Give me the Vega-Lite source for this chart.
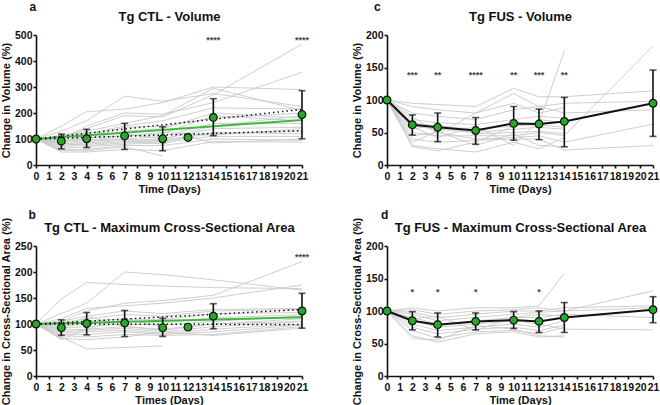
{
"$schema":"https://vega.github.io/schema/vega-lite/v6.json",
"padding":{"left":0,"top":0,"right":2,"bottom":0},
"background":"white",
"config":{
 "view":{"stroke":null},
 "font":"Liberation Sans",
 "axis":{"domainColor":"#111","domainWidth":1.6,"tickColor":"#111","tickWidth":1.6,"tickSize":3,"labelFont":"Liberation Sans","labelFontWeight":"bold","labelFontSize":10.5,"labelColor":"#111","titleFont":"Liberation Sans","titleFontWeight":"bold","titleFontSize":11,"titleColor":"#111","grid":false},
 "axisX":{"labelPadding":3,"titlePadding":2},
 "axisY":{"labelPadding":1,"titlePadding":3},
 "title":{"font":"Liberation Sans","fontWeight":"bold","fontSize":12,"anchor":"start","frame":"group","color":"#111"},
 "line":{"clip":false}
},
"datasets":{
 "a_ind":[
 {"s":1,"d":0,"v":100},{"s":1,"d":2,"v":150},{"s":1,"d":4,"v":205},{"s":1,"d":7,"v":215},{"s":1,"d":10,"v":240},{"s":1,"d":14,"v":300},{"s":1,"d":21,"v":290},
 {"s":2,"d":0,"v":100},{"s":2,"d":2,"v":130},{"s":2,"d":4,"v":170},{"s":2,"d":7,"v":265},{"s":2,"d":10,"v":245},{"s":2,"d":14,"v":275},{"s":2,"d":21,"v":225},
 {"s":3,"d":0,"v":100},{"s":3,"d":2,"v":110},{"s":3,"d":4,"v":140},{"s":3,"d":7,"v":190},{"s":3,"d":10,"v":185},{"s":3,"d":14,"v":270},{"s":3,"d":21,"v":465},
 {"s":4,"d":0,"v":100},{"s":4,"d":2,"v":95},{"s":4,"d":4,"v":150},{"s":4,"d":7,"v":200},{"s":4,"d":10,"v":195},{"s":4,"d":14,"v":240},{"s":4,"d":21,"v":357},
 {"s":5,"d":0,"v":100},{"s":5,"d":2,"v":115},{"s":5,"d":4,"v":130},{"s":5,"d":7,"v":160},{"s":5,"d":10,"v":190},{"s":5,"d":14,"v":295},{"s":5,"d":21,"v":210},
 {"s":6,"d":0,"v":100},{"s":6,"d":2,"v":105},{"s":6,"d":4,"v":120},{"s":6,"d":7,"v":150},{"s":6,"d":10,"v":170},{"s":6,"d":14,"v":220},{"s":6,"d":21,"v":215},
 {"s":7,"d":0,"v":100},{"s":7,"d":2,"v":90},{"s":7,"d":4,"v":100},{"s":7,"d":7,"v":130},{"s":7,"d":10,"v":140},{"s":7,"d":14,"v":200},{"s":7,"d":21,"v":180},
 {"s":8,"d":0,"v":100},{"s":8,"d":2,"v":85},{"s":8,"d":4,"v":95},{"s":8,"d":7,"v":110},{"s":8,"d":10,"v":120},{"s":8,"d":14,"v":190},{"s":8,"d":21,"v":170},
 {"s":9,"d":0,"v":100},{"s":9,"d":2,"v":80},{"s":9,"d":4,"v":90},{"s":9,"d":7,"v":100},{"s":9,"d":10,"v":110},{"s":9,"d":14,"v":160},{"s":9,"d":21,"v":160},
 {"s":10,"d":0,"v":100},{"s":10,"d":2,"v":75},{"s":10,"d":4,"v":85},{"s":10,"d":7,"v":95},{"s":10,"d":10,"v":100},{"s":10,"d":14,"v":140},{"s":10,"d":21,"v":145},
 {"s":11,"d":0,"v":100},{"s":11,"d":2,"v":70},{"s":11,"d":4,"v":80},{"s":11,"d":7,"v":90},{"s":11,"d":10,"v":95},{"s":11,"d":14,"v":125},{"s":11,"d":21,"v":120},
 {"s":12,"d":0,"v":100},{"s":12,"d":2,"v":65},{"s":12,"d":4,"v":70},{"s":12,"d":7,"v":80},{"s":12,"d":10,"v":85},{"s":12,"d":12,"v":100},{"s":12,"d":14,"v":110},{"s":12,"d":21,"v":110},
 {"s":13,"d":0,"v":100},{"s":13,"d":2,"v":60},{"s":13,"d":4,"v":60},{"s":13,"d":7,"v":75},{"s":13,"d":10,"v":75},{"s":13,"d":14,"v":100},{"s":13,"d":21,"v":95},
 {"s":14,"d":0,"v":100},{"s":14,"d":2,"v":55},{"s":14,"d":4,"v":55},{"s":14,"d":7,"v":70},{"s":14,"d":10,"v":35},
 {"s":15,"d":0,"v":100},{"s":15,"d":2,"v":50},{"s":15,"d":4,"v":50},{"s":15,"d":7,"v":60},{"s":15,"d":10,"v":55},{"s":15,"d":14,"v":90},{"s":15,"d":21,"v":88},
 {"s":16,"d":0,"v":100},{"s":16,"d":2,"v":95},{"s":16,"d":4,"v":110},{"s":16,"d":7,"v":145},{"s":16,"d":10,"v":150},{"s":16,"d":14,"v":180},{"s":16,"d":21,"v":200},
 {"s":17,"d":0,"v":100},{"s":17,"d":2,"v":110},{"s":17,"d":4,"v":125},{"s":17,"d":7,"v":120},{"s":17,"d":10,"v":100},{"s":17,"d":14,"v":150},{"s":17,"d":21,"v":190},
 {"s":18,"d":0,"v":100},{"s":18,"d":2,"v":85},{"s":18,"d":4,"v":75},{"s":18,"d":7,"v":85},{"s":18,"d":10,"v":90},{"s":18,"d":12,"v":110},{"s":18,"d":14,"v":85},{"s":18,"d":21,"v":100},
 {"s":19,"d":0,"v":100},{"s":19,"d":2,"v":100},{"s":19,"d":4,"v":95},{"s":19,"d":7,"v":100},{"s":19,"d":10,"v":80},{"s":19,"d":12,"v":108},{"s":19,"d":14,"v":120},{"s":19,"d":21,"v":130},
 {"s":20,"d":0,"v":100},{"s":20,"d":2,"v":92},{"s":20,"d":4,"v":105},{"s":20,"d":7,"v":112},{"s":20,"d":10,"v":125},{"s":20,"d":14,"v":115},{"s":20,"d":21,"v":140}
 ],
 "a_mean":[
 {"d":0,"m":100,"lo":100,"hi":100},{"d":2,"m":92,"lo":62,"hi":119},{"d":4,"m":101,"lo":67,"hi":137},{"d":7,"m":112,"lo":60,"hi":160},{"d":10,"m":101,"lo":55,"hi":147},{"d":12,"m":106,"lo":98,"hi":113},{"d":14,"m":183,"lo":113,"hi":255},{"d":21,"m":194,"lo":101,"hi":286}
 ],
 "a_fit":[
 {"k":"fit","d":0,"v":100},{"k":"fit","d":21,"v":173},
 {"k":"upper","d":0,"v":100},{"k":"upper","d":21,"v":214},
 {"k":"lower","d":0,"v":100},{"k":"lower","d":21,"v":132}
 ],
 "a_star":[{"d":14,"y":482,"t":"****"},{"d":21,"y":482,"t":"****"}],
 "b_ind":[
 {"s":1,"d":0,"v":100},{"s":1,"d":2,"v":148},{"s":1,"d":4,"v":180},{"s":1,"d":7,"v":176},{"s":1,"d":10,"v":173},{"s":1,"d":14,"v":170},{"s":1,"d":21,"v":168},
 {"s":2,"d":0,"v":100},{"s":2,"d":2,"v":120},{"s":2,"d":4,"v":140},{"s":2,"d":7,"v":200},{"s":2,"d":10,"v":195},{"s":2,"d":14,"v":185},{"s":2,"d":21,"v":165},
 {"s":3,"d":0,"v":100},{"s":3,"d":2,"v":105},{"s":3,"d":4,"v":125},{"s":3,"d":7,"v":140},{"s":3,"d":10,"v":145},{"s":3,"d":14,"v":155},{"s":3,"d":21,"v":220},
 {"s":4,"d":0,"v":100},{"s":4,"d":2,"v":110},{"s":4,"d":4,"v":130},{"s":4,"d":7,"v":135},{"s":4,"d":10,"v":140},{"s":4,"d":14,"v":150},{"s":4,"d":21,"v":175},
 {"s":5,"d":0,"v":100},{"s":5,"d":2,"v":105},{"s":5,"d":4,"v":115},{"s":5,"d":7,"v":125},{"s":5,"d":10,"v":120},{"s":5,"d":14,"v":128},{"s":5,"d":21,"v":130},
 {"s":6,"d":0,"v":100},{"s":6,"d":2,"v":102},{"s":6,"d":4,"v":110},{"s":6,"d":7,"v":118},{"s":6,"d":10,"v":115},{"s":6,"d":14,"v":125},{"s":6,"d":21,"v":128},
 {"s":7,"d":0,"v":100},{"s":7,"d":2,"v":98},{"s":7,"d":4,"v":105},{"s":7,"d":7,"v":110},{"s":7,"d":10,"v":108},{"s":7,"d":14,"v":120},{"s":7,"d":21,"v":122},
 {"s":8,"d":0,"v":100},{"s":8,"d":2,"v":95},{"s":8,"d":4,"v":100},{"s":8,"d":7,"v":105},{"s":8,"d":10,"v":102},{"s":8,"d":14,"v":112},{"s":8,"d":21,"v":118},
 {"s":9,"d":0,"v":100},{"s":9,"d":2,"v":92},{"s":9,"d":4,"v":95},{"s":9,"d":7,"v":100},{"s":9,"d":10,"v":98},{"s":9,"d":14,"v":105},{"s":9,"d":21,"v":115},
 {"s":10,"d":0,"v":100},{"s":10,"d":2,"v":88},{"s":10,"d":4,"v":90},{"s":10,"d":7,"v":95},{"s":10,"d":10,"v":90},{"s":10,"d":14,"v":100},{"s":10,"d":21,"v":110},
 {"s":11,"d":0,"v":100},{"s":11,"d":2,"v":85},{"s":11,"d":4,"v":88},{"s":11,"d":7,"v":92},{"s":11,"d":10,"v":85},{"s":11,"d":14,"v":95},{"s":11,"d":21,"v":105},
 {"s":12,"d":0,"v":100},{"s":12,"d":2,"v":82},{"s":12,"d":4,"v":85},{"s":12,"d":7,"v":88},{"s":12,"d":10,"v":82},{"s":12,"d":14,"v":90},{"s":12,"d":21,"v":100},
 {"s":13,"d":0,"v":100},{"s":13,"d":2,"v":80},{"s":13,"d":4,"v":80},{"s":13,"d":7,"v":85},{"s":13,"d":10,"v":80},{"s":13,"d":14,"v":85},{"s":13,"d":21,"v":98},
 {"s":14,"d":0,"v":100},{"s":14,"d":2,"v":78},{"s":14,"d":4,"v":75},{"s":14,"d":7,"v":80},{"s":14,"d":10,"v":78},{"s":14,"d":14,"v":80},{"s":14,"d":21,"v":95},
 {"s":15,"d":0,"v":100},{"s":15,"d":2,"v":75},{"s":15,"d":4,"v":52},{"s":15,"d":7,"v":55},{"s":15,"d":10,"v":58},
 {"s":16,"d":0,"v":100},{"s":16,"d":2,"v":72},{"s":16,"d":4,"v":70},{"s":16,"d":7,"v":75},{"s":16,"d":10,"v":85},{"s":16,"d":14,"v":78},{"s":16,"d":21,"v":92},
 {"s":17,"d":0,"v":100},{"s":17,"d":2,"v":70},{"s":17,"d":4,"v":90},{"s":17,"d":7,"v":110},{"s":17,"d":10,"v":95},
 {"s":18,"d":0,"v":100},{"s":18,"d":2,"v":90},{"s":18,"d":4,"v":115},{"s":18,"d":7,"v":95},{"s":18,"d":10,"v":88},{"s":18,"d":14,"v":100},{"s":18,"d":21,"v":105}
 ],
 "b_mean":[
 {"d":0,"m":100,"lo":100,"hi":100},{"d":2,"m":93,"lo":78,"hi":108},{"d":4,"m":101,"lo":79,"hi":122},{"d":7,"m":102,"lo":76,"hi":126},{"d":10,"m":93,"lo":76,"hi":111},{"d":12,"m":94,"lo":90,"hi":98},{"d":14,"m":115,"lo":91,"hi":139},{"d":21,"m":125,"lo":92,"hi":159}
 ],
 "b_fit":[
 {"k":"fit","d":0,"v":100},{"k":"fit","d":21,"v":113},
 {"k":"upper","d":0,"v":100},{"k":"upper","d":21,"v":128},
 {"k":"lower","d":0,"v":100},{"k":"lower","d":21,"v":99}
 ],
 "b_star":[{"d":21,"y":228,"t":"****"}],
 "c_ind":[
 {"s":1,"d":0,"v":100},{"s":1,"d":2,"v":95},{"s":1,"d":4,"v":93},{"s":1,"d":7,"v":90},{"s":1,"d":10,"v":118},{"s":1,"d":12,"v":105},{"s":1,"d":14,"v":105},{"s":1,"d":21,"v":114},
 {"s":2,"d":0,"v":100},{"s":2,"d":2,"v":90},{"s":2,"d":4,"v":85},{"s":2,"d":7,"v":80},{"s":2,"d":10,"v":110},{"s":2,"d":12,"v":90},{"s":2,"d":14,"v":95},{"s":2,"d":21,"v":98},
 {"s":3,"d":0,"v":100},{"s":3,"d":2,"v":80},{"s":3,"d":4,"v":75},{"s":3,"d":7,"v":70},{"s":3,"d":10,"v":85},{"s":3,"d":12,"v":90},{"s":3,"d":14,"v":80},{"s":3,"d":21,"v":85},
 {"s":4,"d":0,"v":100},{"s":4,"d":2,"v":70},{"s":4,"d":4,"v":65},{"s":4,"d":7,"v":62},{"s":4,"d":10,"v":70},{"s":4,"d":12,"v":75},{"s":4,"d":14,"v":72},
 {"s":5,"d":0,"v":100},{"s":5,"d":2,"v":65},{"s":5,"d":4,"v":60},{"s":5,"d":7,"v":55},{"s":5,"d":10,"v":60},{"s":5,"d":12,"v":62},{"s":5,"d":14,"v":58},
 {"s":6,"d":0,"v":100},{"s":6,"d":2,"v":60},{"s":6,"d":4,"v":55},{"s":6,"d":7,"v":50},{"s":6,"d":10,"v":55},{"s":6,"d":12,"v":58},{"s":6,"d":14,"v":55},
 {"s":7,"d":0,"v":100},{"s":7,"d":2,"v":55},{"s":7,"d":4,"v":62},{"s":7,"d":7,"v":48},{"s":7,"d":10,"v":50},{"s":7,"d":12,"v":52},{"s":7,"d":14,"v":48},
 {"s":8,"d":0,"v":100},{"s":8,"d":2,"v":50},{"s":8,"d":4,"v":45},{"s":8,"d":7,"v":45},{"s":8,"d":10,"v":45},{"s":8,"d":12,"v":50},{"s":8,"d":14,"v":45},{"s":8,"d":21,"v":183},
 {"s":9,"d":0,"v":100},{"s":9,"d":2,"v":45},{"s":9,"d":4,"v":50},{"s":9,"d":7,"v":40},{"s":9,"d":10,"v":42},{"s":9,"d":12,"v":45},{"s":9,"d":14,"v":35},{"s":9,"d":21,"v":63},
 {"s":10,"d":0,"v":100},{"s":10,"d":2,"v":40},{"s":10,"d":4,"v":35},{"s":10,"d":7,"v":38},{"s":10,"d":10,"v":40},{"s":10,"d":12,"v":40},{"s":10,"d":14,"v":23},{"s":10,"d":21,"v":30},
 {"s":11,"d":0,"v":100},{"s":11,"d":2,"v":35},{"s":11,"d":4,"v":52},{"s":11,"d":7,"v":30},{"s":11,"d":10,"v":48},{"s":11,"d":12,"v":30},{"s":11,"d":14,"v":28},
 {"s":12,"d":0,"v":100},{"s":12,"d":2,"v":30},{"s":12,"d":4,"v":25},{"s":12,"d":7,"v":20},{"s":12,"d":10,"v":35},{"s":12,"d":12,"v":25},{"s":12,"d":14,"v":42},
 {"s":13,"d":0,"v":100},{"s":13,"d":2,"v":28},{"s":13,"d":4,"v":22},{"s":13,"d":7,"v":35},{"s":13,"d":10,"v":60},{"s":13,"d":12,"v":65},{"s":13,"d":14,"v":175},
 {"s":14,"d":0,"v":100},{"s":14,"d":2,"v":75},{"s":14,"d":4,"v":48},{"s":14,"d":7,"v":80},{"s":14,"d":10,"v":95},{"s":14,"d":12,"v":80},{"s":14,"d":14,"v":88},
 {"s":15,"d":0,"v":100},{"s":15,"d":2,"v":58},{"s":15,"d":4,"v":42},{"s":15,"d":7,"v":60},{"s":15,"d":10,"v":30},{"s":15,"d":12,"v":70},{"s":15,"d":14,"v":65}
 ],
 "c_mean":[
 {"d":0,"m":100,"lo":100,"hi":100},{"d":2,"m":62,"lo":46,"hi":77},{"d":4,"m":58,"lo":36,"hi":80},{"d":7,"m":53,"lo":32,"hi":73},{"d":10,"m":64,"lo":38,"hi":90},{"d":12,"m":63,"lo":39,"hi":86},{"d":14,"m":67,"lo":28,"hi":104},{"d":21,"m":95,"lo":44,"hi":146}
 ],
 "c_star":[{"d":2,"y":138,"t":"***"},{"d":4,"y":138,"t":"**"},{"d":7,"y":138,"t":"****"},{"d":10,"y":138,"t":"**"},{"d":12,"y":138,"t":"***"},{"d":14,"y":138,"t":"**"}],
 "d_ind":[
 {"s":1,"d":0,"v":100},{"s":1,"d":2,"v":105},{"s":1,"d":4,"v":100},{"s":1,"d":7,"v":105},{"s":1,"d":10,"v":105},{"s":1,"d":12,"v":108},{"s":1,"d":14,"v":158},
 {"s":2,"d":0,"v":100},{"s":2,"d":2,"v":102},{"s":2,"d":4,"v":95},{"s":2,"d":7,"v":100},{"s":2,"d":10,"v":102},{"s":2,"d":12,"v":105},{"s":2,"d":14,"v":100},{"s":2,"d":21,"v":131},
 {"s":3,"d":0,"v":100},{"s":3,"d":2,"v":98},{"s":3,"d":4,"v":90},{"s":3,"d":7,"v":95},{"s":3,"d":10,"v":100},{"s":3,"d":12,"v":100},{"s":3,"d":14,"v":105},{"s":3,"d":21,"v":108},
 {"s":4,"d":0,"v":100},{"s":4,"d":2,"v":95},{"s":4,"d":4,"v":85},{"s":4,"d":7,"v":90},{"s":4,"d":10,"v":95},{"s":4,"d":12,"v":98},{"s":4,"d":14,"v":100},{"s":4,"d":21,"v":105},
 {"s":5,"d":0,"v":100},{"s":5,"d":2,"v":90},{"s":5,"d":4,"v":80},{"s":5,"d":7,"v":85},{"s":5,"d":10,"v":90},{"s":5,"d":12,"v":90},{"s":5,"d":14,"v":95},{"s":5,"d":21,"v":90},
 {"s":6,"d":0,"v":100},{"s":6,"d":2,"v":85},{"s":6,"d":4,"v":75},{"s":6,"d":7,"v":80},{"s":6,"d":10,"v":85},{"s":6,"d":12,"v":80},{"s":6,"d":14,"v":72},{"s":6,"d":21,"v":71},
 {"s":7,"d":0,"v":100},{"s":7,"d":2,"v":80},{"s":7,"d":4,"v":70},{"s":7,"d":7,"v":75},{"s":7,"d":10,"v":80},{"s":7,"d":12,"v":75},{"s":7,"d":14,"v":85},
 {"s":8,"d":0,"v":100},{"s":8,"d":2,"v":75},{"s":8,"d":4,"v":65},{"s":8,"d":7,"v":72},{"s":8,"d":10,"v":75},{"s":8,"d":12,"v":70},{"s":8,"d":14,"v":78},
 {"s":9,"d":0,"v":100},{"s":9,"d":2,"v":70},{"s":9,"d":4,"v":58},{"s":9,"d":7,"v":68},{"s":9,"d":10,"v":70},{"s":9,"d":12,"v":65},{"s":9,"d":14,"v":75},
 {"s":10,"d":0,"v":100},{"s":10,"d":2,"v":62},{"s":10,"d":4,"v":52},{"s":10,"d":7,"v":65},{"s":10,"d":10,"v":68},{"s":10,"d":12,"v":60},{"s":10,"d":14,"v":62},
 {"s":11,"d":0,"v":100},{"s":11,"d":2,"v":58},{"s":11,"d":4,"v":55},{"s":11,"d":7,"v":78},{"s":11,"d":10,"v":72},{"s":11,"d":12,"v":62},{"s":11,"d":14,"v":60},
 {"s":12,"d":0,"v":100},{"s":12,"d":2,"v":88},{"s":12,"d":4,"v":92},{"s":12,"d":7,"v":70},{"s":12,"d":10,"v":90},{"s":12,"d":12,"v":95},{"s":12,"d":14,"v":92}
 ],
 "d_mean":[
 {"d":0,"m":100,"lo":100,"hi":100},{"d":2,"m":85,"lo":71,"hi":99},{"d":4,"m":79,"lo":60,"hi":97},{"d":7,"m":84,"lo":71,"hi":97},{"d":10,"m":86,"lo":73,"hi":99},{"d":12,"m":84,"lo":67,"hi":100},{"d":14,"m":90,"lo":67,"hi":113},{"d":21,"m":102,"lo":82,"hi":122}
 ],
 "d_star":[{"d":2,"y":129,"t":"*"},{"d":4,"y":129,"t":"*"},{"d":7,"y":129,"t":"*"},{"d":12,"y":129,"t":"*"}]
},
"spacing":14,
"vconcat":[
{"hconcat":[
 {"title":{"text":"a","dx":-6.5,"offset":-3},"width":266,"height":130,"resolve":{"axis":{"x":"independent","y":"independent"}},
  "layer":[
   {"data":{"name":"a_ind"},"mark":{"type":"line","color":"#c8c8c8","strokeWidth":0.9},
    "encoding":{"x":{"field":"d","type":"quantitative","scale":{"domain":[0,21],"nice":false},"axis":{"values":[0,1,2,3,4,5,6,7,8,9,10,11,12,13,14,15,16,17,18,19,20,21],"title":"Time (Days)","labelAngle":0,"labelOverlap":false,"labelFlush":false,"format":"d"}},
     "y":{"field":"v","type":"quantitative","scale":{"domain":[0,500],"nice":false},"axis":{"values":[0,100,200,300,400,500],"title":"Change in Volume (%)","labelOverlap":false}},
     "detail":{"field":"s"}}},
   {"data":{"name":"a_fit"},"transform":[{"filter":"datum.k == 'fit'"}],"mark":{"type":"line","color":"#3dbb3d","strokeWidth":2},
    "encoding":{"x":{"field":"d","type":"quantitative","axis":null},"y":{"field":"v","type":"quantitative","axis":null}}},
   {"data":{"name":"a_fit"},"transform":[{"filter":"datum.k != 'fit'"}],"mark":{"type":"line","color":"#111","strokeWidth":1.5,"strokeDash":[1.5,3]},
    "encoding":{"x":{"field":"d","type":"quantitative","axis":null},"y":{"field":"v","type":"quantitative","axis":null},"detail":{"field":"k"}}},
   {"data":{"name":"a_mean"},"transform":[{"filter":"datum.d > 0"}],"mark":{"type":"rule","color":"#111","strokeWidth":1.6},
    "encoding":{"x":{"field":"d","type":"quantitative","axis":null},"y":{"field":"lo","type":"quantitative","axis":null},"y2":{"field":"hi"}}},
   {"data":{"name":"a_mean"},"transform":[{"filter":"datum.d > 0"}],"mark":{"type":"tick","orient":"horizontal","size":7,"thickness":1.6,"color":"#111"},
    "encoding":{"x":{"field":"d","type":"quantitative","axis":null},"y":{"field":"lo","type":"quantitative","axis":null}}},
   {"data":{"name":"a_mean"},"transform":[{"filter":"datum.d > 0"}],"mark":{"type":"tick","orient":"horizontal","size":7,"thickness":1.6,"color":"#111"},
    "encoding":{"x":{"field":"d","type":"quantitative","axis":null},"y":{"field":"hi","type":"quantitative","axis":null}}},
   {"data":{"name":"a_mean"},"mark":{"type":"point","shape":"circle","filled":true,"size":60,"fill":"#27a827","stroke":"#111","strokeWidth":1.2,"opacity":1},
    "encoding":{"x":{"field":"d","type":"quantitative","axis":null},"y":{"field":"m","type":"quantitative","axis":null}}},
   {"data":{"name":"a_star"},"mark":{"type":"text","fontSize":9,"fontWeight":"bold","color":"#444","baseline":"middle"},
    "encoding":{"x":{"field":"d","type":"quantitative","axis":{"orient":"top","title":"Tg  CTL - Volume","labels":false,"ticks":false,"domain":false,"titleFontSize":13,"titlePadding":11.5}},"y":{"field":"y","type":"quantitative","axis":null},"text":{"field":"t"}}}
  ]},
 {"title":{"text":"c","dx":-13,"offset":-3},"width":266,"height":130,"resolve":{"axis":{"x":"independent","y":"independent"}},
  "layer":[
   {"data":{"name":"c_ind"},"mark":{"type":"line","color":"#c8c8c8","strokeWidth":0.9},
    "encoding":{"x":{"field":"d","type":"quantitative","scale":{"domain":[0,21],"nice":false},"axis":{"values":[0,1,2,3,4,5,6,7,8,9,10,11,12,13,14,15,16,17,18,19,20,21],"title":"Time (Days)","labelAngle":0,"labelOverlap":false,"labelFlush":false,"format":"d"}},
     "y":{"field":"v","type":"quantitative","scale":{"domain":[0,200],"nice":false},"axis":{"values":[0,50,100,150,200],"title":"Change in Volume (%)","labelOverlap":false}},
     "detail":{"field":"s"}}},
   {"data":{"name":"c_mean"},"mark":{"type":"line","color":"#111","strokeWidth":2},
    "encoding":{"x":{"field":"d","type":"quantitative","axis":null},"y":{"field":"m","type":"quantitative","axis":null}}},
   {"data":{"name":"c_mean"},"transform":[{"filter":"datum.d > 0"}],"mark":{"type":"rule","color":"#111","strokeWidth":1.6},
    "encoding":{"x":{"field":"d","type":"quantitative","axis":null},"y":{"field":"lo","type":"quantitative","axis":null},"y2":{"field":"hi"}}},
   {"data":{"name":"c_mean"},"transform":[{"filter":"datum.d > 0"}],"mark":{"type":"tick","orient":"horizontal","size":7,"thickness":1.6,"color":"#111"},
    "encoding":{"x":{"field":"d","type":"quantitative","axis":null},"y":{"field":"lo","type":"quantitative","axis":null}}},
   {"data":{"name":"c_mean"},"transform":[{"filter":"datum.d > 0"}],"mark":{"type":"tick","orient":"horizontal","size":7,"thickness":1.6,"color":"#111"},
    "encoding":{"x":{"field":"d","type":"quantitative","axis":null},"y":{"field":"hi","type":"quantitative","axis":null}}},
   {"data":{"name":"c_mean"},"mark":{"type":"point","shape":"circle","filled":true,"size":60,"fill":"#27a827","stroke":"#111","strokeWidth":1.2,"opacity":1},
    "encoding":{"x":{"field":"d","type":"quantitative","axis":null},"y":{"field":"m","type":"quantitative","axis":null}}},
   {"data":{"name":"c_star"},"mark":{"type":"text","fontSize":9,"fontWeight":"bold","color":"#444","baseline":"middle"},
    "encoding":{"x":{"field":"d","type":"quantitative","axis":{"orient":"top","title":"Tg  FUS - Volume","labels":false,"ticks":false,"domain":false,"titleFontSize":13,"titlePadding":11.5}},"y":{"field":"y","type":"quantitative","axis":null},"text":{"field":"t"}}}
  ]}
 ],"spacing":41},
{"hconcat":[
 {"title":{"text":"b","dx":-7.5,"offset":-6.5},"width":266,"height":130,"resolve":{"axis":{"x":"independent","y":"independent"}},
  "layer":[
   {"data":{"name":"b_ind"},"mark":{"type":"line","color":"#c8c8c8","strokeWidth":0.9},
    "encoding":{"x":{"field":"d","type":"quantitative","scale":{"domain":[0,21],"nice":false},"axis":{"values":[0,1,2,3,4,5,6,7,8,9,10,11,12,13,14,15,16,17,18,19,20,21],"title":"Times (Days)","labelAngle":0,"labelOverlap":false,"labelFlush":false,"format":"d"}},
     "y":{"field":"v","type":"quantitative","scale":{"domain":[0,250],"nice":false},"axis":{"values":[0,50,100,150,200,250],"title":"Change in Cross-Sectional  Area (%)","labelOverlap":false}},
     "detail":{"field":"s"}}},
   {"data":{"name":"b_fit"},"transform":[{"filter":"datum.k == 'fit'"}],"mark":{"type":"line","color":"#3dbb3d","strokeWidth":2},
    "encoding":{"x":{"field":"d","type":"quantitative","axis":null},"y":{"field":"v","type":"quantitative","axis":null}}},
   {"data":{"name":"b_fit"},"transform":[{"filter":"datum.k != 'fit'"}],"mark":{"type":"line","color":"#111","strokeWidth":1.5,"strokeDash":[1.5,3]},
    "encoding":{"x":{"field":"d","type":"quantitative","axis":null},"y":{"field":"v","type":"quantitative","axis":null},"detail":{"field":"k"}}},
   {"data":{"name":"b_mean"},"transform":[{"filter":"datum.d > 0"}],"mark":{"type":"rule","color":"#111","strokeWidth":1.6},
    "encoding":{"x":{"field":"d","type":"quantitative","axis":null},"y":{"field":"lo","type":"quantitative","axis":null},"y2":{"field":"hi"}}},
   {"data":{"name":"b_mean"},"transform":[{"filter":"datum.d > 0"}],"mark":{"type":"tick","orient":"horizontal","size":7,"thickness":1.6,"color":"#111"},
    "encoding":{"x":{"field":"d","type":"quantitative","axis":null},"y":{"field":"lo","type":"quantitative","axis":null}}},
   {"data":{"name":"b_mean"},"transform":[{"filter":"datum.d > 0"}],"mark":{"type":"tick","orient":"horizontal","size":7,"thickness":1.6,"color":"#111"},
    "encoding":{"x":{"field":"d","type":"quantitative","axis":null},"y":{"field":"hi","type":"quantitative","axis":null}}},
   {"data":{"name":"b_mean"},"mark":{"type":"point","shape":"circle","filled":true,"size":60,"fill":"#27a827","stroke":"#111","strokeWidth":1.2,"opacity":1},
    "encoding":{"x":{"field":"d","type":"quantitative","axis":null},"y":{"field":"m","type":"quantitative","axis":null}}},
   {"data":{"name":"b_star"},"mark":{"type":"text","fontSize":9,"fontWeight":"bold","color":"#444","baseline":"middle"},
    "encoding":{"x":{"field":"d","type":"quantitative","axis":{"orient":"top","title":"Tg CTL - Maximum Cross-Sectional Area","labels":false,"ticks":false,"domain":false,"titleFontSize":13,"titlePadding":11.5}},"y":{"field":"y","type":"quantitative","axis":null},"text":{"field":"t"}}}
  ]},
 {"title":{"text":"d","dx":-6,"offset":-6.5},"width":266,"height":130,"resolve":{"axis":{"x":"independent","y":"independent"}},
  "layer":[
   {"data":{"name":"d_ind"},"mark":{"type":"line","color":"#c8c8c8","strokeWidth":0.9},
    "encoding":{"x":{"field":"d","type":"quantitative","scale":{"domain":[0,21],"nice":false},"axis":{"values":[0,1,2,3,4,5,6,7,8,9,10,11,12,13,14,15,16,17,18,19,20,21],"title":"Time (Days)","labelAngle":0,"labelOverlap":false,"labelFlush":false,"format":"d"}},
     "y":{"field":"v","type":"quantitative","scale":{"domain":[0,200],"nice":false},"axis":{"values":[0,50,100,150,200],"title":"Change in Cross-Sectional  Area (%)","labelOverlap":false}},
     "detail":{"field":"s"}}},
   {"data":{"name":"d_mean"},"mark":{"type":"line","color":"#111","strokeWidth":2},
    "encoding":{"x":{"field":"d","type":"quantitative","axis":null},"y":{"field":"m","type":"quantitative","axis":null}}},
   {"data":{"name":"d_mean"},"transform":[{"filter":"datum.d > 0"}],"mark":{"type":"rule","color":"#111","strokeWidth":1.6},
    "encoding":{"x":{"field":"d","type":"quantitative","axis":null},"y":{"field":"lo","type":"quantitative","axis":null},"y2":{"field":"hi"}}},
   {"data":{"name":"d_mean"},"transform":[{"filter":"datum.d > 0"}],"mark":{"type":"tick","orient":"horizontal","size":7,"thickness":1.6,"color":"#111"},
    "encoding":{"x":{"field":"d","type":"quantitative","axis":null},"y":{"field":"lo","type":"quantitative","axis":null}}},
   {"data":{"name":"d_mean"},"transform":[{"filter":"datum.d > 0"}],"mark":{"type":"tick","orient":"horizontal","size":7,"thickness":1.6,"color":"#111"},
    "encoding":{"x":{"field":"d","type":"quantitative","axis":null},"y":{"field":"hi","type":"quantitative","axis":null}}},
   {"data":{"name":"d_mean"},"mark":{"type":"point","shape":"circle","filled":true,"size":60,"fill":"#27a827","stroke":"#111","strokeWidth":1.2,"opacity":1},
    "encoding":{"x":{"field":"d","type":"quantitative","axis":null},"y":{"field":"m","type":"quantitative","axis":null}}},
   {"data":{"name":"d_star"},"mark":{"type":"text","fontSize":9,"fontWeight":"bold","color":"#444","baseline":"middle"},
    "encoding":{"x":{"field":"d","type":"quantitative","axis":{"orient":"top","title":"Tg FUS - Maximum Cross-Sectional Area","labels":false,"ticks":false,"domain":false,"titleFontSize":13,"titlePadding":11.5}},"y":{"field":"y","type":"quantitative","axis":null},"text":{"field":"t"}}}
  ]}
 ],"spacing":41}
]
}
